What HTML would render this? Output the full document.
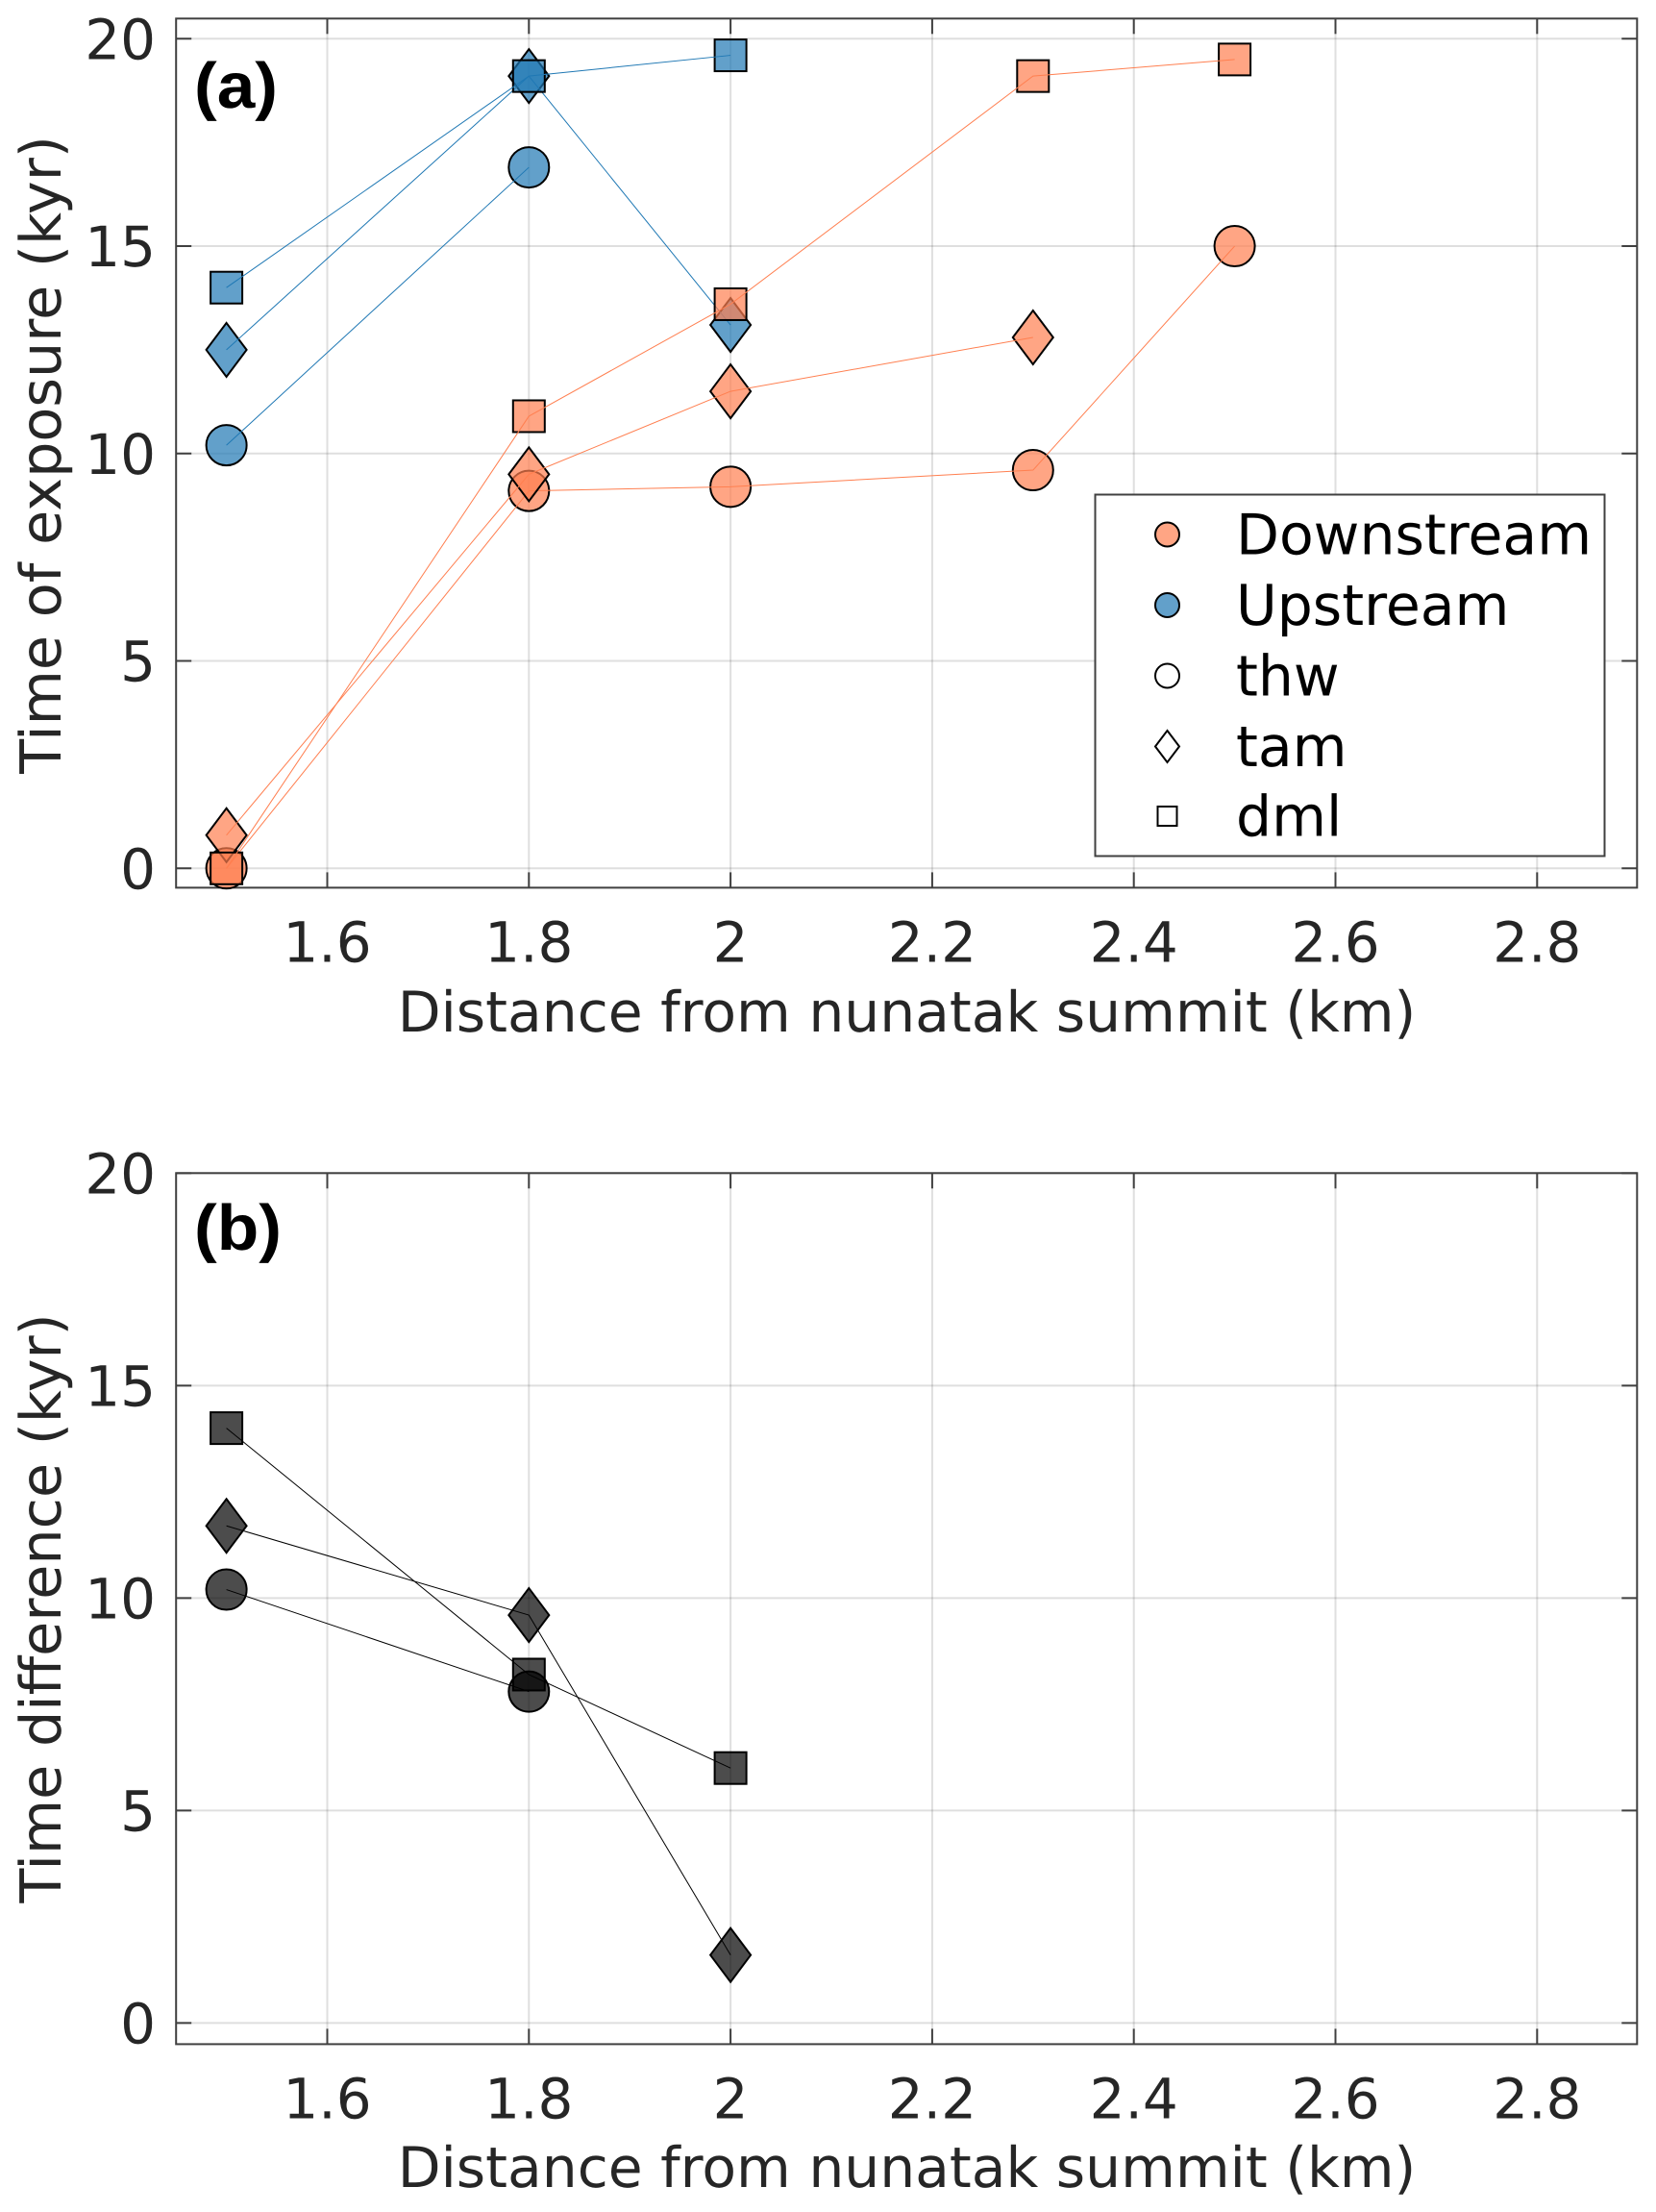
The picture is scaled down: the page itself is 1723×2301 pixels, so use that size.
<!DOCTYPE html>
<html lang="en">
<head>
<meta charset="utf-8">
<title>Time of exposure and time difference versus distance from nunatak summit</title>
<style>
html,body{margin:0;padding:0;background:#fff;}
svg{display:block;}
text{font-family:"DejaVu Sans","Liberation Sans",sans-serif;text-rendering:geometricPrecision;}
.tick-text{fill:#262626;font-size:58px;}
.axis-title{fill:#262626;font-size:58.3px;}
.axis-title-y{fill:#262626;font-size:58.8px;}
.legend-text{fill:#000;font-size:58.4px;}
.panel-tag{font-family:"Liberation Sans",sans-serif;font-weight:bold;font-size:67px;fill:#000;}
</style>
</head>
<body>
<svg id="figure" xmlns="http://www.w3.org/2000/svg" width="1723" height="2301" viewBox="0 0 1723 2301">
  <rect x="0" y="0" width="1723" height="2301" fill="#fff"/>

  <g id="panel-a"></g>
  <g id="panel-b"></g>

  <text class="axis-title-y" transform="translate(63,473) rotate(-90)" text-anchor="middle">Time of exposure (kyr)</text>
  <text class="axis-title" x="943.5" y="1073" text-anchor="middle">Distance from nunatak summit (km)</text>
  <text class="panel-tag" x="202" y="112" textLength="87" lengthAdjust="spacingAndGlyphs">(a)</text>

  <text class="axis-title-y" transform="translate(63,1673) rotate(-90)" text-anchor="middle">Time difference (kyr)</text>
  <text class="axis-title" x="943.5" y="2275" text-anchor="middle">Distance from nunatak summit (km)</text>
  <text class="panel-tag" x="202" y="1300" textLength="91" lengthAdjust="spacingAndGlyphs">(b)</text>

  <g>
    <rect x="1139.5" y="514.5" width="530" height="376" fill="#fff" stroke="#404040" stroke-width="2"/>
    <g>
      <circle cx="1214.5" cy="556" r="12.5" fill="#FFA584" stroke="#000" stroke-width="2"/>
      <text class="legend-text" x="1286" y="576.5">Downstream</text>
    </g>
    <g>
      <circle cx="1214.5" cy="629.5" r="12.5" fill="#62A0CA" stroke="#000" stroke-width="2"/>
      <text class="legend-text" x="1286" y="650">Upstream</text>
    </g>
    <g>
      <circle cx="1214.5" cy="703" r="12.5" fill="#fff" stroke="#000" stroke-width="2"/>
      <text class="legend-text" x="1286" y="723.5">thw</text>
    </g>
    <g>
      <polygon points="1214.5,760 1227,776.5 1214.5,793 1202,776.5" fill="#fff" stroke="#000" stroke-width="2"/>
      <text class="legend-text" x="1286" y="797">tam</text>
    </g>
    <g>
      <rect x="1204.5" y="839" width="20" height="20" fill="#fff" stroke="#000" stroke-width="2"/>
      <text class="legend-text" x="1286" y="869.5">dml</text>
    </g>
  </g>
</svg>

<script>
// Tick labels
const xTickValues = [1.6, 1.8, 2, 2.2, 2.4, 2.6, 2.8];
const yTickValues = [0, 5, 10, 15, 20];

// Panel (a): time of exposure, kyr
const upstreamThwDistance = [1.5, 1.8];
const upstreamThwExposure = [10.2, 16.9];
const upstreamTamDistance = [1.5, 1.8, 2];
const upstreamTamExposure = [12.5, 19.1, 13.1];
const upstreamDmlDistance = [1.5, 1.8, 2];
const upstreamDmlExposure = [14, 19.1, 19.6];
const downstreamThwDistance = [1.5, 1.8, 2, 2.3, 2.5];
const downstreamThwExposure = [0, 9.1, 9.2, 9.6, 15];
const downstreamTamDistance = [1.5, 1.8, 2, 2.3];
const downstreamTamExposure = [0.8, 9.5, 11.5, 12.8];
const downstreamDmlDistance = [1.5, 1.8, 2, 2.3, 2.5];
const downstreamDmlExposure = [0, 10.9, 13.6, 19.1, 19.5];

// Panel (b): time difference, kyr
const differenceThwDistance = [1.5, 1.8];
const differenceThwValues = [10.2, 7.8];
const differenceTamDistance = [1.5, 1.8, 2];
const differenceTamValues = [11.7, 9.6, 1.6];
const differenceDmlDistance = [1.5, 1.8, 2];
const differenceDmlValues = [14, 8.2, 6];

const SVG_NS = 'http://www.w3.org/2000/svg';
const plotLeft = 183.2;
const plotRight = 1703.3;

function xScale(v) { return 340.5 + (v - 1.6) * 1049; }
function yScaleA(v) { return 903.3 - v * 43.15; }
function yScaleB(v) { return 2104.4 - v * 44.2; }

function make(tag, attrs, parent) {
  const el = document.createElementNS(SVG_NS, tag);
  for (const k in attrs) el.setAttribute(k, attrs[k]);
  parent.appendChild(el);
  return el;
}

function drawAxes(parent, yScale, top, bottom, prefix) {
  const axisColor = '#404040';
  const tickLen = 16;
  const grid = make('g', {}, parent);
  
  
  const ticks = make('g', {}, parent);
  
  

  xTickValues.forEach(function (v) {
    const x = xScale(v);
    const g = make('line', {x1: x, x2: x, y1: top, y2: bottom, stroke: '#262626', 'stroke-opacity': 0.15, 'stroke-width': 2}, grid);
    
    
    const t1 = make('line', {x1: x, x2: x, y1: bottom, y2: bottom - tickLen, stroke: axisColor, 'stroke-width': 2}, ticks);
    
    
    const t2 = make('line', {x1: x, x2: x, y1: top, y2: top + tickLen, stroke: axisColor, 'stroke-width': 2}, ticks);
    
    
    const label = make('text', {x: x, y: bottom + 77, 'text-anchor': 'middle', class: 'tick-text'}, ticks);
    
    
    label.textContent = String(v);
  });

  yTickValues.forEach(function (v) {
    const y = yScale(v);
    const g = make('line', {x1: plotLeft, x2: plotRight, y1: y, y2: y, stroke: '#262626', 'stroke-opacity': 0.15, 'stroke-width': 2}, grid);
    
    
    const t1 = make('line', {x1: plotLeft, x2: plotLeft + tickLen, y1: y, y2: y, stroke: axisColor, 'stroke-width': 2}, ticks);
    
    
    const t2 = make('line', {x1: plotRight, x2: plotRight - tickLen, y1: y, y2: y, stroke: axisColor, 'stroke-width': 2}, ticks);
    
    
    const label = make('text', {x: 162, y: y + 21, 'text-anchor': 'end', class: 'tick-text'}, ticks);
    
    
    label.textContent = String(v);
  });

  const frame = make('rect', {x: plotLeft, y: top, width: plotRight - plotLeft, height: bottom - top, fill: 'none', stroke: axisColor, 'stroke-width': 2}, parent);
  
  
}

function drawMarker(parent, shape, cx, cy, color, name) {
  const base = {fill: color, 'fill-opacity': 0.7, stroke: '#000', 'stroke-width': 2};
  let el;
  if (shape === 'circle') {
    el = make('circle', Object.assign({cx: cx, cy: cy, r: 21}, base), parent);
  } else if (shape === 'diamond') {
    const pts = [[cx, cy - 28], [cx + 21, cy], [cx, cy + 28], [cx - 21, cy]].map(function (p) { return p.join(','); }).join(' ');
    el = make('polygon', Object.assign({points: pts}, base), parent);
  } else {
    el = make('rect', Object.assign({x: cx - 16.5, y: cy - 16.5, width: 33, height: 33}, base), parent);
  }
  
  
}

function drawSeries(parent, xs, ys, yScale, shape, color, name) {
  const group = make('g', {}, parent);
  
  
  xs.forEach(function (v, i) {
    drawMarker(group, shape, xScale(v), yScale(ys[i]), color, name + '-marker');
  });
  const pts = xs.map(function (v, i) { return xScale(v) + ',' + yScale(ys[i]); }).join(' ');
  const line = make('polyline', {points: pts, fill: 'none', stroke: color, 'stroke-width': 1, 'stroke-linejoin': 'round'}, group);
  
  
}

const panelA = document.getElementById('panel-a');
const panelB = document.getElementById('panel-b');
const blue = '#1f78b4';
const coral = '#ff7f50';
const black = '#000000';

drawAxes(panelA, yScaleA, 19.3, 923.4, 'panel-a');
drawSeries(panelA, upstreamThwDistance, upstreamThwExposure, yScaleA, 'circle', blue, 'upstream-thw');
drawSeries(panelA, upstreamTamDistance, upstreamTamExposure, yScaleA, 'diamond', blue, 'upstream-tam');
drawSeries(panelA, upstreamDmlDistance, upstreamDmlExposure, yScaleA, 'square', blue, 'upstream-dml');
drawSeries(panelA, downstreamThwDistance, downstreamThwExposure, yScaleA, 'circle', coral, 'downstream-thw');
drawSeries(panelA, downstreamTamDistance, downstreamTamExposure, yScaleA, 'diamond', coral, 'downstream-tam');
drawSeries(panelA, downstreamDmlDistance, downstreamDmlExposure, yScaleA, 'square', coral, 'downstream-dml');

drawAxes(panelB, yScaleB, 1220.3, 2126.4, 'panel-b');
drawSeries(panelB, differenceDmlDistance, differenceDmlValues, yScaleB, 'square', black, 'difference-dml');
drawSeries(panelB, differenceTamDistance, differenceTamValues, yScaleB, 'diamond', black, 'difference-tam');
drawSeries(panelB, differenceThwDistance, differenceThwValues, yScaleB, 'circle', black, 'difference-thw');
</script>
</body>
</html>
